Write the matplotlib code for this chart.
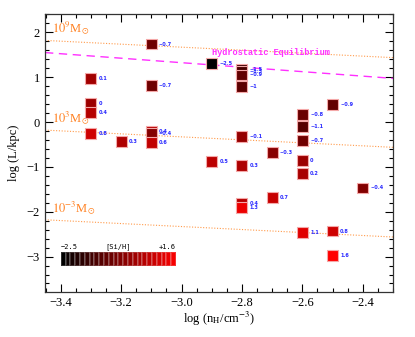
import numpy as np
import matplotlib
matplotlib.use('Agg')
from matplotlib import pyplot as plt
from matplotlib.colors import LinearSegmentedColormap, Normalize
from matplotlib.ticker import MultipleLocator

plt.rcParams['font.family'] = ['Liberation Serif', 'DejaVu Serif']
plt.rcParams['mathtext.fontset'] = 'stix'

# log n_H, log L, [Si/H] for each cloud
log_nh = [-3.1, -2.9, -3.3, -3.1, -3.3, -3.3, -3.3, -3.2, -3.1, -3.1, -3.1, -2.9,
          -2.8, -2.8, -2.8, -2.8, -2.5, -2.6, -2.6, -2.6, -2.8, -2.7, -2.6, -2.8,
          -2.6, -2.4, -2.7, -2.8, -2.8, -2.6, -2.5, -2.5]
log_L = [1.74, 1.31, 0.98, 0.81, 0.41, 0.21, -0.25, -0.43, -0.22, -0.26, -0.46, -0.87,
         1.18, 1.12, 1.05, 0.80, 0.40, 0.17, -0.10, -0.41, -0.33, -0.67, -0.86, -0.97,
         -1.14, -1.47, -1.68, -1.81, -1.91, -2.47, -2.43, -2.98]
si_h = [-0.7, -2.5, 0.1, -0.7, 0, 0.4, 0.8, 0.3, 0.4, -0.4, 0.6, 0.5,
        -1.5, -1.3, -0.9, -1, -0.9, -0.8, -1.1, -0.7, -0.1, -0.3, 0, 0.3,
        0.2, -0.4, 0.7, 0.4, 1.3, 1.1, 0.8, 1.6]
si_labels = ['\u22120.7', '\u22122.5', '0.1', '\u22120.7', '0', '0.4', '0.8', '0.3', '0.4', '\u22120.4', '0.6', '0.5',
             '\u22121.5', '\u22121.3', '\u22120.9', '\u22121', '\u22120.9', '\u22120.8', '\u22121.1', '\u22120.7', '\u22120.1', '\u22120.3', '0', '0.3',
             '0.2', '\u22120.4', '0.7', '0.4', '1.3', '1.1', '0.8', '1.6']

# constant-mass lines: log L = -1/3 log n + c
mass_labels = [r'$10^{9}$M$_{\odot}$', r'$10^{3}$M$_{\odot}$', r'$10^{-3}$M$_{\odot}$']
mass_consts = [0.67, -1.33, -3.33]
# hydrostatic equilibrium: log L = -1/2 log n + c
hse_const = -0.176

cmap = LinearSegmentedColormap.from_list('blk_red', ['#000000', '#ff0000'])
norm = Normalize(vmin=-2.5, vmax=1.6)

fig = plt.figure(figsize=(4.15, 3.37), dpi=100)
ax = fig.add_axes([0.1084, 0.1335, 0.8386, 0.825])

xlim = (-3.452, -2.3)
ylim = (-3.79, 2.41)
xx = np.linspace(xlim[0], xlim[1], 50)

for lab, c in zip(mass_labels, mass_consts):
    ax.plot(xx, -xx / 3 + c, ls=(0, (1, 1.5)), color='#ff9a4a', lw=0.8)
    ax.text(-3.43, -xlim[0] / 3 + c + 0.07, lab, color='#ff8020', fontsize=9,
            va='bottom', ha='left')

ax.plot(xx, -xx / 2 + hse_const, ls=(0, (6, 4)), color='#ff30ff', lw=1.0)
ax.text(-2.9, 1.44, 'Hydrostatic Equilibrium', color='#ff30ff', fontsize=6.2,
        family='Liberation Mono', weight='bold', va='bottom', ha='left')

ax.scatter(log_nh, log_L, c=si_h, cmap=cmap, norm=norm, marker='s', s=62,
           edgecolors='#f4a8a8', linewidths=0.8, zorder=3)
for x, y, lab in zip(log_nh, log_L, si_labels):
    ax.annotate(lab, (x, y), xytext=(5.5, 0), textcoords='offset points',
                color='#2a2aff', fontsize=3.6, weight='bold', va='center',
                family='DejaVu Sans')

ax.set_xlim(xlim)
ax.set_ylim(ylim)
ax.xaxis.set_major_locator(MultipleLocator(0.2))
ax.xaxis.set_minor_locator(MultipleLocator(0.05))
ax.yaxis.set_major_locator(MultipleLocator(1))
ax.yaxis.set_minor_locator(MultipleLocator(0.2))
ax.tick_params(which='both', direction='in', top=True, right=True, labelsize=9, width=0.8)
ax.tick_params(which='major', length=6)
ax.tick_params(which='minor', length=3)
for sp in ax.spines.values():
    sp.set_linewidth(0.9)
    sp.set_color('#333333')

ax.set_xlabel(r'log (n$_{\rm H}$/cm$^{-3}$)', fontsize=9, labelpad=1)
ax.set_ylabel('log (L/kpc)', fontsize=9, labelpad=5)

# colour bar for [Si/H]
cax = fig.add_axes([0.1463, 0.2116, 0.2778, 0.0398])
edges = np.linspace(-2.5, 1.6, 25)
cax.pcolormesh(edges, [0, 1], edges[:-1].reshape(1, -1), cmap=cmap, norm=norm,
               edgecolors='#ffffff30', linewidth=0.3)
cax.set_xlim(-2.5, 1.6)
cax.set_axis_off()
cax.text(0.0, 1.15, '\u22122.5', transform=cax.transAxes, fontsize=5, ha='left', va='bottom',
         family='DejaVu Sans Mono')
cax.text(0.5, 1.15, '[Si/H]', transform=cax.transAxes, fontsize=5, ha='center', va='bottom',
         family='DejaVu Sans Mono')
cax.text(1.0, 1.15, '+1.6', transform=cax.transAxes, fontsize=5, ha='right', va='bottom',
         family='DejaVu Sans Mono')

fig.savefig('out.png', dpi=100)
